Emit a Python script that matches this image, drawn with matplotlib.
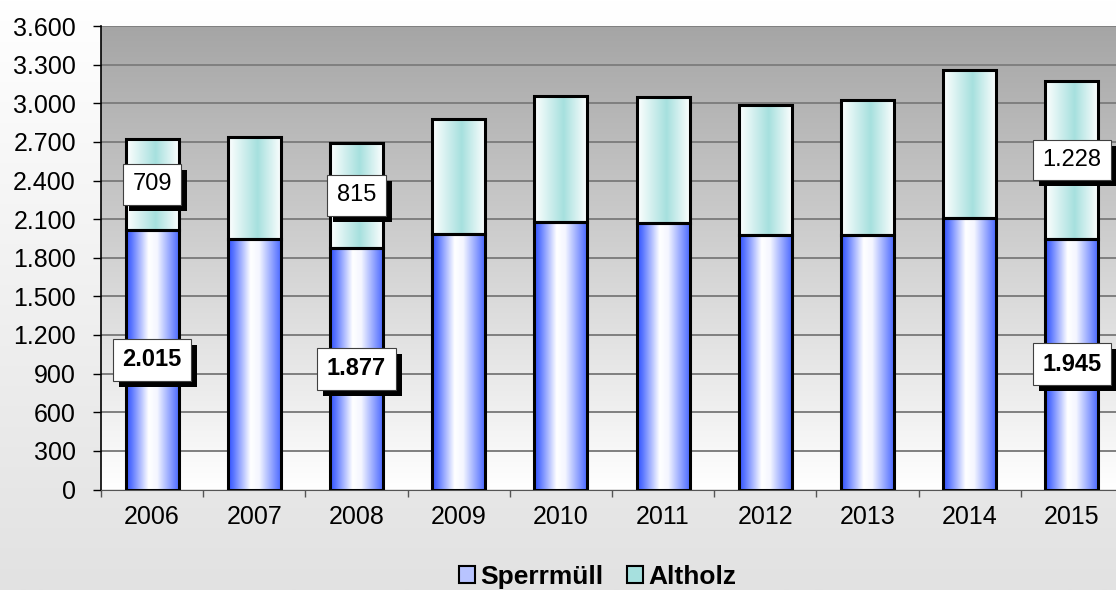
import numpy as np
import matplotlib
matplotlib.use('Agg')
import matplotlib.pyplot as plt
from matplotlib.colors import LinearSegmentedColormap
from matplotlib.patches import Patch, Rectangle
from matplotlib.transforms import IdentityTransform

plt.rcParams['font.family'] = ['Liberation Sans', 'DejaVu Sans']

years = ['2006', '2007', '2008', '2009', '2010', '2011', '2012', '2013', '2014', '2015']
sperrmuell = [2015, 1947, 1877, 1983, 2076, 2068, 1973, 1978, 2110, 1945]
altholz = [709, 788, 815, 895, 977, 980, 1015, 1047, 1147, 1228]
# which bars carry value labels
labelled = ['2006', '2008', '2015']
yticks = list(range(0, 3601, 300))

blue_cm = LinearSegmentedColormap.from_list(
    'blue', [(0, '#2f4fff'), (0.1, '#5874ff'), (0.42, '#ffffff'), (0.58, '#f4f6ff'),
             (0.9, '#6e86ff'), (1, '#4464ff')])
teal_cm = LinearSegmentedColormap.from_list(
    'teal', [(0, '#ffffff'), (0.55, '#a6e0de'), (1, '#ffffff')])


def fmt(v):
    return f'{v:,}'.replace(',', '.')


fig = plt.figure(figsize=(11.16, 5.90), dpi=100)

# figure background: white at top, light grey at bottom
bg = fig.add_axes([0, 0, 1, 1], zorder=-10)
g = np.linspace(0, 1, 256).reshape(-1, 1)
bg.imshow(g, cmap=LinearSegmentedColormap.from_list('fbg', ['#ffffff', '#e2e2e2']),
          aspect='auto', extent=[0, 1, 0, 1], origin='upper')
bg.axis('off')

ax = fig.add_axes([101 / 1116, 100.5 / 590, 1022 / 1116, 463.5 / 590])
ax.patch.set_visible(False)
x = np.arange(len(years))

# plot area background gradient
ax.imshow(g, cmap=LinearSegmentedColormap.from_list('abg', ['#a5a5a5', '#ffffff']),
          aspect='auto', extent=[-0.5, 9.5, 0, 3600], origin='upper', zorder=0)

for yv in yticks[1:]:
    ax.axhline(yv, color='#7f7f7f', lw=1.4, zorder=1)

w = 0.52
bars1 = ax.bar(x, sperrmuell, w, facecolor='none', edgecolor='black', lw=2.2, zorder=4)
bars2 = ax.bar(x, altholz, w, bottom=sperrmuell, facecolor='none', edgecolor='black',
               lw=2.2, zorder=4)

hg = np.linspace(0, 1, 256).reshape(1, -1)
for bars, cm in ((bars1, blue_cm), (bars2, teal_cm)):
    for b in bars:
        x0, y0 = b.get_x(), b.get_y()
        ax.imshow(hg, cmap=cm, aspect='auto', zorder=3,
                  extent=[x0, x0 + b.get_width(), y0, y0 + b.get_height()])

labels = []
for i, yr in enumerate(years):
    if yr in labelled:
        for yc, v, bold in ((sperrmuell[i] / 2, sperrmuell[i], True),
                            (sperrmuell[i] + altholz[i] / 2, altholz[i], False)):
            t = ax.annotate(fmt(v), (i, yc), ha='center', va='center', fontsize=17,
                            weight='bold' if bold else 'normal', color='black', zorder=7,
                            bbox=dict(boxstyle='square,pad=0.4', fc='white',
                                      ec='#404040', lw=0.8))
            labels.append(t)

ax.set_xlim(-0.5, 9.5)
ax.set_ylim(0, 3600)
ax.set_yticks(yticks)
ax.set_yticklabels([fmt(v) for v in yticks])
ax.set_xticks(np.arange(-0.5, 9.6, 1))
ax.set_xticklabels([])
ax.set_xticks(x, minor=True)
ax.set_xticklabels(years, minor=True)
ax.tick_params(axis='y', length=6, width=1, pad=12, labelsize=18, direction='out')
ax.tick_params(axis='x', which='major', length=5, width=1, direction='out', color='#555555')
ax.tick_params(axis='x', which='minor', length=0, pad=11, labelsize=18)
for s in ('top', 'right'):
    ax.spines[s].set_visible(False)
ax.spines['left'].set_linewidth(1.2)
ax.spines['bottom'].set_color('#555555')

handles = [Patch(facecolor='#b8c4ff', edgecolor='black', lw=1.5, label='Sperrmüll'),
           Patch(facecolor='#a6e0de', edgecolor='black', lw=1.5, label='Altholz')]
fig.legend(handles=handles, loc='center', bbox_to_anchor=(598 / 1116, 13 / 590),
           ncol=2, frameon=False, prop={'weight': 'bold', 'size': 19},
           handlelength=0.6, handleheight=0.6, handletextpad=0.2, columnspacing=0.9)

# drop shadows behind the value boxes
fig.canvas.draw()
r = fig.canvas.get_renderer()
for t in labels:
    bb = t.get_bbox_patch().get_window_extent(r)
    ax.add_patch(Rectangle((bb.x0 + 6, bb.y0 - 6), bb.width, bb.height,
                           transform=IdentityTransform(), fc='black', ec='none',
                           zorder=6, clip_on=False))

fig.savefig('out.png', dpi=100)
